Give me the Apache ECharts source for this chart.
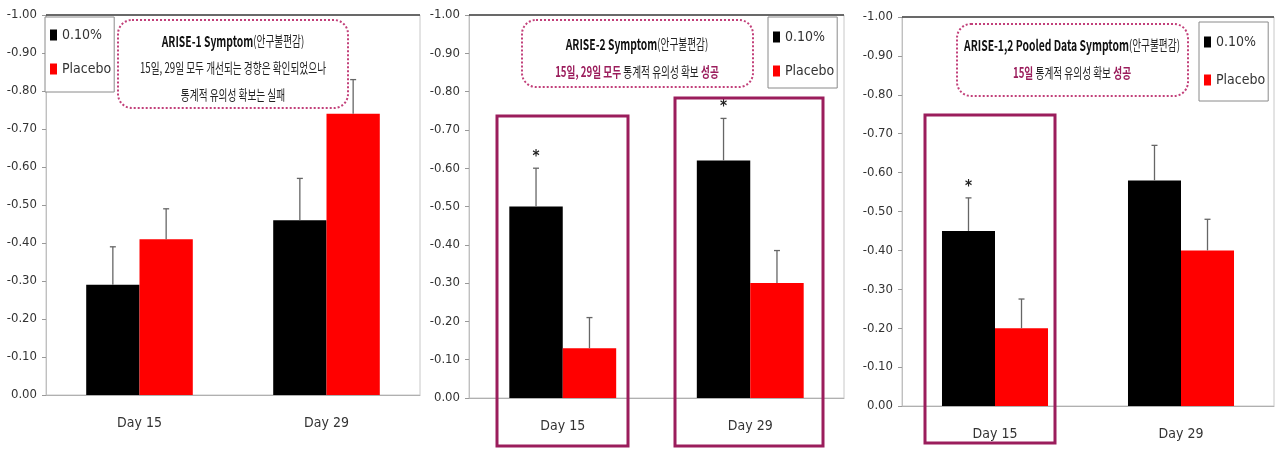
<!DOCTYPE html>
<html>
<head>
<meta charset="utf-8">
<script src="https://cdn.jsdelivr.net/npm/echarts@6/dist/echarts.min.js"></script>
<style>
  html, body { margin: 0; padding: 0; background: #fff; }
  #main { width: 1276px; height: 450px; }
</style>
</head>
<body>
<div id="main"></div>
<script>
// data (symptom change, negative = improvement)
var categories = ['Day 15', 'Day 29'];
var seriesNames = ['0.10%', 'Placebo'];

var arise1Drug = [-0.29, -0.46];
var arise1DrugErr = [0.10, 0.11];
var arise1Placebo = [-0.41, -0.74];
var arise1PlaceboErr = [0.08, 0.09];

var arise2Drug = [-0.50, -0.62];
var arise2DrugErr = [0.10, 0.11];
var arise2Placebo = [-0.13, -0.30];
var arise2PlaceboErr = [0.08, 0.085];

var pooledDrug = [-0.45, -0.58];
var pooledDrugErr = [0.085, 0.09];
var pooledPlacebo = [-0.20, -0.40];
var pooledPlaceboErr = [0.075, 0.08];

// significance markers (1 = '*') above the 0.10% bars
var arise1Stars = [0, 0];
var arise2Stars = [1, 1];
var pooledStars = [1, 0];

var chart = echarts.init(document.getElementById('main'), null, {renderer: 'canvas'});

var narrow = '"Liberation Sans Narrow", "DejaVu Sans Condensed", sans-serif';
var kr = '"Noto Sans CJK KR", sans-serif';
var plum = '#9b1d5c';

var grids = [
  {left: 46, top: 15, width: 374, height: 380},
  {left: 469, top: 15, width: 375, height: 383},
  {left: 902, top: 17, width: 372, height: 389}
];

function makeX(i) {
  return {
    type: 'category', gridIndex: i, data: categories,
    axisLine: {lineStyle: {color: '#b0b0b0', width: 1}},
    axisTick: {show: false},
    axisLabel: {color: '#333', fontFamily: narrow, fontSize: 14, margin: 21}
  };
}
function makeY(i) {
  return {
    type: 'value', gridIndex: i, min: -1, max: 0, interval: 0.1, inverse: true,
    axisLine: {show: true, lineStyle: {color: '#c0c0c0'}},
    axisTick: {show: true, length: 4, lineStyle: {color: '#999'}},
    splitLine: {show: false},
    axisLabel: {
      color: '#333', fontFamily: narrow, fontSize: 13, margin: 9,
      formatter: function (v) { return (Math.abs(v) < 1e-9 ? 0 : v).toFixed(2); }
    }
  };
}

function barSeries(i, name, values, color, withTop) {
  var s = {
    type: 'bar', name: name, xAxisIndex: i, yAxisIndex: i,
    data: values, barGap: '0%', barCategoryGap: '43%',
    itemStyle: {color: color}
  };
  if (withTop) {
    s.markLine = {
      silent: true, symbol: 'none', label: {show: false},
      lineStyle: {color: '#404040', width: 1.5, type: 'solid'},
      data: [{yAxis: -1}]
    };
  }
  return s;
}

function errSeries(i, values, errs, stars, side) {
  var data = values.map(function (v, k) { return [k, v, errs[k], stars[k]]; });
  return {
    type: 'custom', xAxisIndex: i, yAxisIndex: i, z: 5, silent: true,
    data: data,
    renderItem: function (params, api) {
      var cat = api.value(0), v = api.value(1), e = api.value(2), star = api.value(3);
      var base = api.coord([cat, v]);
      var top = api.coord([cat, v - e]);
      var band = api.size([1, 0])[0];
      var x = base[0] + side * band * 0.1425;
      var kids = [
        {type: 'line', shape: {x1: x, y1: base[1], x2: x, y2: top[1]},
         style: {stroke: '#666', lineWidth: 1.3}},
        {type: 'line', shape: {x1: x - 3, y1: top[1], x2: x + 3, y2: top[1]},
         style: {stroke: '#666', lineWidth: 1.3}}
      ];
      if (star) {
        kids.push({type: 'text', x: x, y: top[1] - 11,
          style: {text: '*', fill: '#222', font: 'bold 15px ' + narrow,
                  align: 'center', verticalAlign: 'middle'}});
      }
      return {type: 'group', children: kids};
    }
  };
}

function makeLegend(left, top, pad, gap) {
  return {
    left: left, top: top, orient: 'vertical', data: seriesNames,
    selectedMode: false, icon: 'rect', itemWidth: 7, itemHeight: 11, itemGap: gap,
    padding: pad, borderColor: '#8a8a8a', borderWidth: 1, backgroundColor: '#fff',
    textStyle: {color: '#333', fontFamily: narrow, fontSize: 14}
  };
}

function hiBox(x, y, w, h) {
  return {type: 'rect', shape: {x: x, y: y, width: w, height: h}, z: 20,
          style: {fill: 'none', stroke: plum, lineWidth: 3}};
}
function noteBox(x, y, w, h) {
  return {type: 'rect', shape: {x: x, y: y, width: w, height: h, r: 14}, z: 20,
          style: {fill: '#fff', stroke: '#c2407a', lineWidth: 2, lineDash: [2, 2]}};
}
var noteRich = {
  t: {font: 'bold 15px ' + kr, fill: '#111'},
  n: {font: '14px ' + kr, fill: '#222'},
  h: {font: 'bold 14px ' + kr, fill: plum}
};
function noteText(cx, cy, txt) {
  return {type: 'text', x: cx, y: cy, scaleX: 0.69, z: 21,
          style: {text: txt, rich: noteRich, align: 'center', verticalAlign: 'middle'}};
}

var option = {
  animation: false,
  backgroundColor: '#fff',
  grid: grids.map(function (g) {
    return Object.assign({show: true, borderColor: '#c8c8c8', borderWidth: 1, containLabel: false}, g);
  }),
  xAxis: [makeX(0), makeX(1), makeX(2)],
  yAxis: [makeY(0), makeY(1), makeY(2)],
  legend: [
    makeLegend(45, 17, [11, 3, 16, 5], 20),
    makeLegend(768, 17, [13, 3, 10, 5], 20),
    makeLegend(1199, 22, [13, 3, 14, 5], 24)
  ],
  series: [
    barSeries(0, '0.10%', arise1Drug, '#000', true),
    barSeries(0, 'Placebo', arise1Placebo, '#ff0000'),
    errSeries(0, arise1Drug, arise1DrugErr, arise1Stars, -1),
    errSeries(0, arise1Placebo, arise1PlaceboErr, [0, 0], 1),

    barSeries(1, '0.10%', arise2Drug, '#000', true),
    barSeries(1, 'Placebo', arise2Placebo, '#ff0000'),
    errSeries(1, arise2Drug, arise2DrugErr, arise2Stars, -1),
    errSeries(1, arise2Placebo, arise2PlaceboErr, [0, 0], 1),

    barSeries(2, '0.10%', pooledDrug, '#000', true),
    barSeries(2, 'Placebo', pooledPlacebo, '#ff0000'),
    errSeries(2, pooledDrug, pooledDrugErr, pooledStars, -1),
    errSeries(2, pooledPlacebo, pooledPlaceboErr, [0, 0], 1)
  ],
  graphic: [
    noteBox(118, 20, 230, 88),
    noteText(233, 41, '{t|ARISE-1 Symptom}{n|(안구불편감)}'),
    noteText(233, 68, '{n|15일, 29일 모두 개선되는 경향은 확인되었으나}'),
    noteText(233, 95, '{n|통계적 유의성 확보는 실패}'),

    noteBox(522, 20, 231, 67),
    noteText(637, 44, '{t|ARISE-2 Symptom}{n|(안구불편감)}'),
    noteText(637, 72, '{h|15일, 29일 모두} {n|통계적 유의성 확보} {h|성공}'),

    noteBox(957, 24, 231, 72),
    noteText(1072, 45, '{t|ARISE-1,2 Pooled Data Symptom}{n|(안구불편감)}'),
    noteText(1072, 73, '{h|15일} {n|통계적 유의성 확보} {h|성공}'),

    hiBox(497, 116, 131, 330),
    hiBox(675, 98, 148, 348),
    hiBox(925, 115, 130, 328)
  ]
};

chart.setOption(option);
</script>
</body>
</html>
